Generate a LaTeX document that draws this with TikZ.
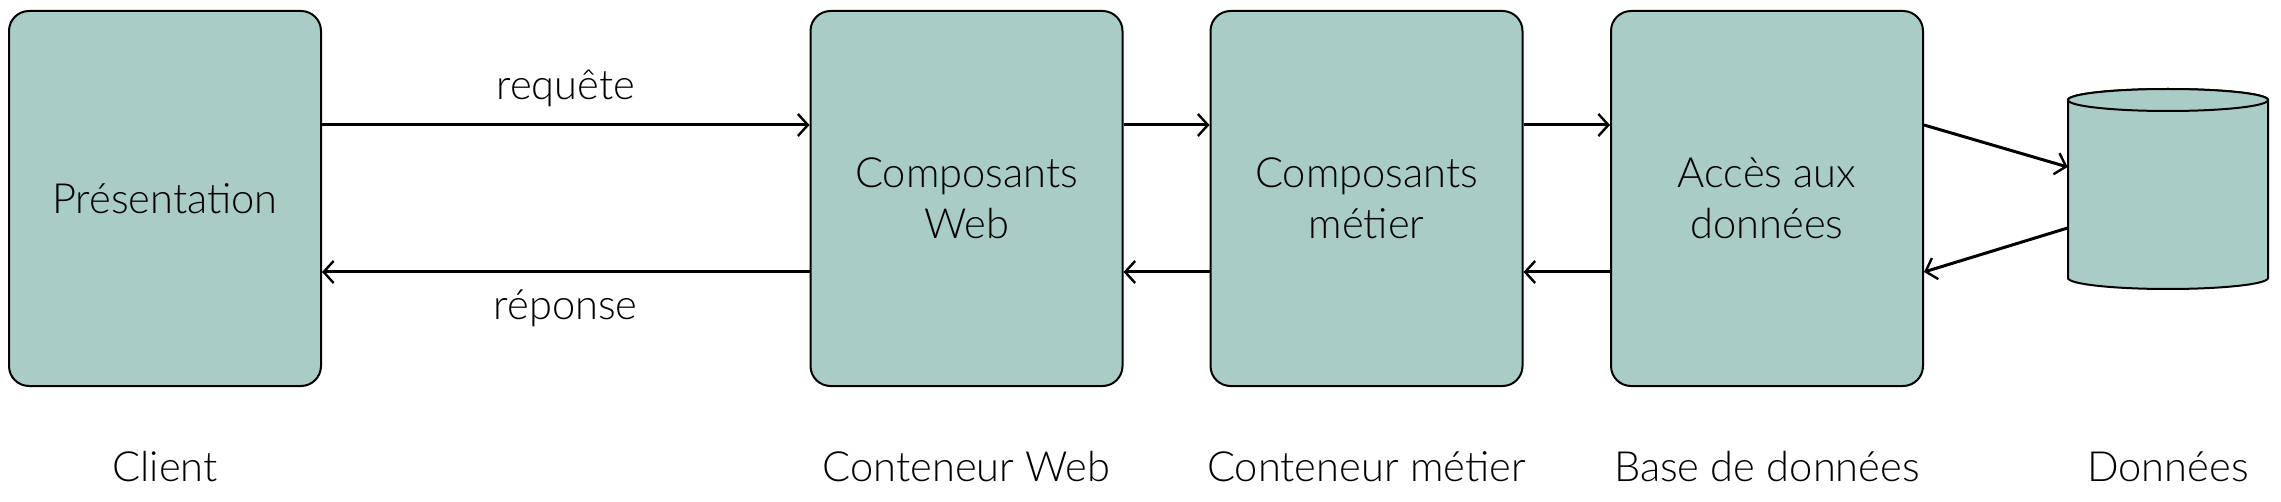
\documentclass[tikz,border=0pt]{standalone}
\usepackage{fontspec}
\IfFontExistsTF{Lato Light}{\setmainfont{Lato Light}}{\setmainfont{Lato}}
\usetikzlibrary{arrows.meta}
\definecolor{boxfill}{HTML}{A9CDC6}
\definecolor{txt}{HTML}{000000}
\begin{document}
\begin{tikzpicture}[x=0.5pt,y=-0.5pt,
  layerbox/.style={draw=black, line width=1pt, fill=boxfill, rounded corners=10pt,
    minimum width=156pt, minimum height=187.5pt, align=center, inner sep=0pt,
    text=txt, font=\fontsize{20.8}{25.5}\selectfont},
  lbl/.style={text=txt, font=\fontsize{20.8}{25.5}\selectfont, inner sep=0pt},
  conn/.style={line width=1.5pt, -{Straight Barb[length=5pt,width=11pt,line width=1.2pt]}},
  cyl/.style={draw=black, line width=1pt, fill=boxfill}]
\useasboundingbox (0,0) rectangle (2281,502);
% boxes
\node[layerbox] (b1) at (165,198.5) {Présentation};
\node[layerbox] (b2) at (966.5,198.5) {Composants\\Web};
\node[layerbox] (b3) at (1366.5,198.5) {Composants\\métier};
\node[layerbox] (b4) at (1767,198.5) {Accès aux\\données};
% cylinder
\path[cyl] (2068,100) -- (2068,278)
  arc[start angle=180,end angle=360,x radius=50pt,y radius=5.5pt]
  -- (2268,100)
  arc[start angle=0,end angle=180,x radius=50pt,y radius=5.5pt] -- cycle;
\draw[cyl] (2168,100) ellipse[x radius=50pt,y radius=5.5pt];
\node[minimum width=100pt, minimum height=100pt, inner sep=0pt] (db) at (2168,189) {};
% connectors
\draw[conn] ([yshift=36.75pt]b1.east) -- ([yshift=36.75pt]b2.west)
  node[lbl, midway, yshift=18.5pt] {requête};
\draw[conn] ([yshift=-36.75pt]b2.west) -- ([yshift=-36.75pt]b1.east)
  node[lbl, midway, yshift=-18pt] {réponse};
\draw[conn] ([yshift=36.75pt]b2.east) -- ([yshift=36.75pt]b3.west);
\draw[conn] ([yshift=-36.75pt]b3.west) -- ([yshift=-36.75pt]b2.east);
\draw[conn] ([yshift=36.75pt]b3.east) -- ([yshift=36.75pt]b4.west);
\draw[conn] ([yshift=-36.75pt]b4.west) -- ([yshift=-36.75pt]b3.east);
\draw[conn] ([yshift=36.75pt]b4.east) -- ([yshift=11pt]db.west);
\draw[conn] ([yshift=-19.5pt]db.west) -- ([yshift=-36.75pt]b4.east);
% bottom labels
\node[lbl, anchor=base] (l1) at (165,481) {Client};
\node[lbl, anchor=base] (l2) at (966.5,481) {Conteneur Web};
\node[lbl, anchor=base] (l3) at (1366.5,481) {Conteneur métier};
\node[lbl, anchor=base] (l4) at (1767,481) {Base de données};
\node[lbl, anchor=base] (l5) at (2168,481) {Données};
\end{tikzpicture}
\end{document}
